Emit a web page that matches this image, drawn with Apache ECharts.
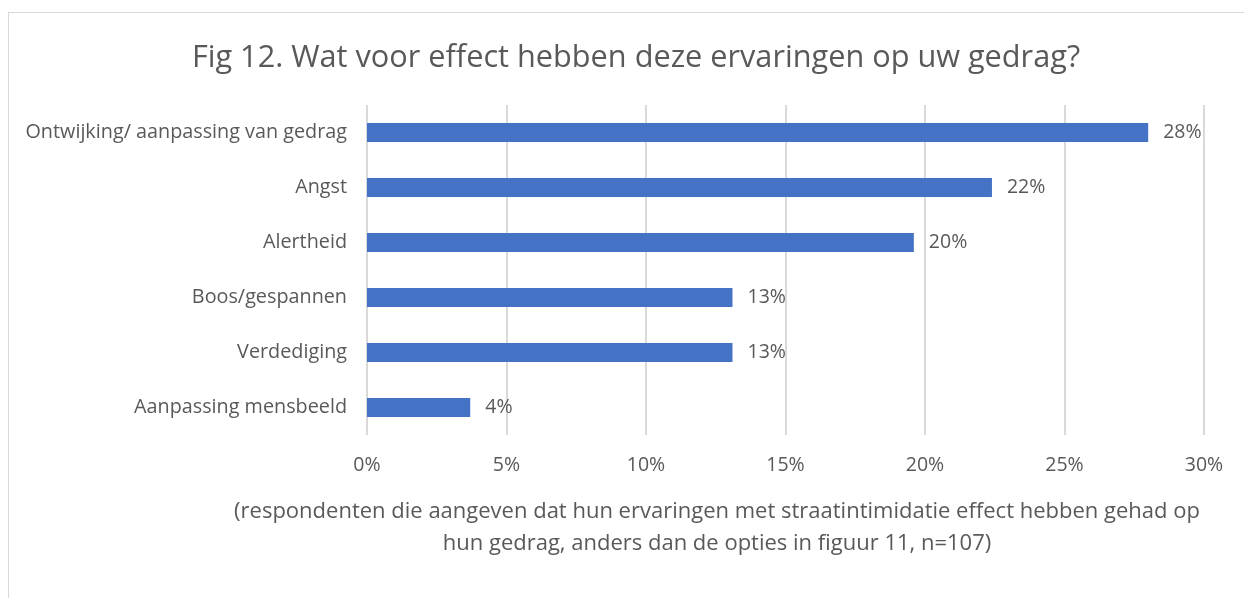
<!DOCTYPE html>
<html>
<head>
<meta charset="utf-8">
<script src="https://cdn.jsdelivr.net/npm/echarts@6/dist/echarts.min.js"></script>
<style>
  html, body { margin: 0; padding: 0; background: #fff; }
  #frame { position: absolute; left: 8px; top: 12px; width: 1260px; height: 620px; border: 1px solid #d9d9d9; box-sizing: border-box; }
  #chart { position: absolute; left: 0; top: 0; width: 1244px; height: 598px; }
</style>
</head>
<body>
<div id="frame"></div>
<div id="chart"></div>
<script>
// categories from top to bottom
const categories = [
  'Ontwijking/ aanpassing van gedrag',
  'Angst',
  'Alertheid',
  'Boos/gespannen',
  'Verdediging',
  'Aanpassing mensbeeld'
]
// share of respondents, percent
const values = [28.0, 22.4, 19.6, 13.1, 13.1, 3.7]
const xTicks = [0, 5, 10, 15, 20, 25, 30]

const font = 'Open Sans'
const grey = '#595959'

const chart = echarts.init(document.getElementById('chart'))
chart.setOption({
  animation: false,
  title: [{
    text: 'Fig 12. Wat voor effect hebben deze ervaringen op uw gedrag?',
    left: 631,
    top: 38,
    textAlign: 'center',
    textStyle: { color: grey, fontFamily: font, fontSize: 30.7, fontWeight: 'normal' }
  }, {
    text: '(respondenten die aangeven dat hun ervaringen met straatintimidatie effect hebben gehad op\nhun gedrag, anders dan de opties in figuur 11, n=107)',
    left: 712,
    top: 491,
    textAlign: 'center',
    textStyle: { color: grey, fontFamily: font, fontSize: 22, fontWeight: 'normal', lineHeight: 32, align: 'center' }
  }],
  grid: { left: 367, right: 40, top: 105, bottom: 163 },
  xAxis: {
    type: 'value',
    min: 0,
    max: 30,
    interval: 5,
    axisLine: { show: false },
    axisTick: { show: false },
    axisLabel: {
      margin: 20,
      color: grey,
      fontFamily: font,
      fontSize: 19.5,
      formatter: v => xTicks.includes(v) ? v + '%' : ''
    },
    splitLine: { lineStyle: { color: '#d9d9d9', width: 2 } }
  },
  yAxis: {
    type: 'category',
    inverse: true,
    data: categories,
    axisLine: { show: false },
    axisTick: { show: false },
    axisLabel: { margin: 20, color: grey, fontFamily: font, fontSize: 19.8 }
  },
  series: [{
    type: 'bar',
    data: values,
    barWidth: 19,
    itemStyle: { color: '#4472c4' },
    label: {
      show: true,
      position: 'right',
      distance: 15,
      color: grey,
      fontFamily: font,
      fontSize: 19.5,
      formatter: p => Math.round(p.value) + '%'
    }
  }]
})
</script>
</body>
</html>
